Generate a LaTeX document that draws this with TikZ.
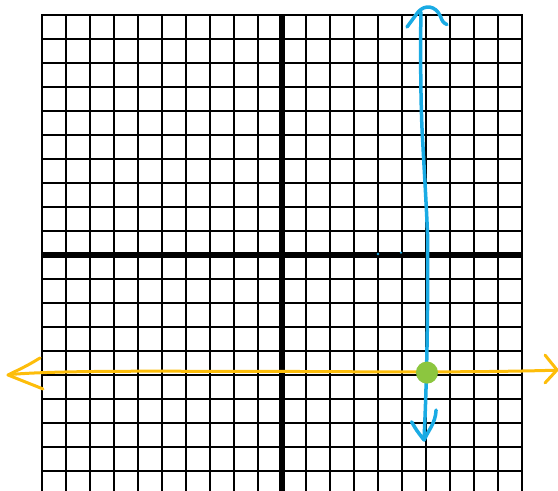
\documentclass[tikz,border=0pt]{standalone}
\usepackage{tikz}
\usetikzlibrary{calc}
\usepackage{xcolor}
\definecolor{vline}{HTML}{1AABE4}
\definecolor{hline}{HTML}{FDBD0A}
\definecolor{meet}{HTML}{8CC63F}

\begin{document}
\begin{tikzpicture}[x=24pt,y=24pt,line cap=round,line join=round]
  \useasboundingbox (-11.75,-9.792) rectangle (11.5,10.625);

  % grid lines
  \foreach \i in {-10,...,10} {
    \draw[black,line width=2pt,line cap=rect] (\i,-9.9) -- (\i,10);
  }
  \foreach \j in {-9,...,10} {
    \draw[black,line width=2pt,line cap=rect] (-10,\j) -- (10,\j);
  }

  % axes
  \draw[black,line width=5.5pt,line cap=butt] (0,-9.9) -- (0,10);
  \draw[black,line width=5.5pt,line cap=butt] (-10,0) -- (10,0);

  % specks on the axis
  \fill[vline] (4.0,0.04) circle (1.3pt);
  \fill[vline] (4.96,0.1) circle (1.3pt);

  % horizontal line y = -5
  \draw[hline,line width=3pt] (-11.33,-4.98) .. controls (-9,-4.78) and (-4,-4.86) .. (-0.08,-4.85)
    .. controls (4,-4.87) and (8,-4.9) .. (11.42,-4.8);
  \draw[hline,line width=3pt] (-10.08,-4.29) .. controls (-10.6,-4.6) .. (-11.42,-5.0)
    .. controls (-10.7,-5.3) .. (-9.96,-5.58);
  \draw[hline,line width=3pt] (10.96,-4.17) .. controls (11.2,-4.45) .. (11.46,-4.79)
    .. controls (11.2,-5.05) .. (10.96,-5.33);

  % vertical line x = 6
  \draw[vline,line width=3.5pt] (5.79,10.125) .. controls (5.76,8.5) and (5.78,6) .. (5.86,4.79)
    .. controls (5.9,4) and (6.05,1.5) .. (6.07,0.625)
    .. controls (6.08,-2) and (6.05,-5) .. (5.92,-7.625);
  \draw[vline,line width=3.5pt] (5.21,9.5) .. controls (5.45,9.85) .. (5.67,10.125)
    .. controls (5.95,10.45) and (6.4,10.4) .. (6.6,9.95) .. controls (6.7,9.7) .. (6.875,9.6);
  \draw[vline,line width=3.5pt] (5.40,-6.95) .. controls (5.6,-7.3) .. (5.92,-7.71)
    .. controls (6.1,-7.3) and (6.4,-7) .. (6.42,-6.46);

  % the point where they meet
  \fill[meet] (6.04,-4.9) circle (0.46);
\end{tikzpicture}
\end{document}
